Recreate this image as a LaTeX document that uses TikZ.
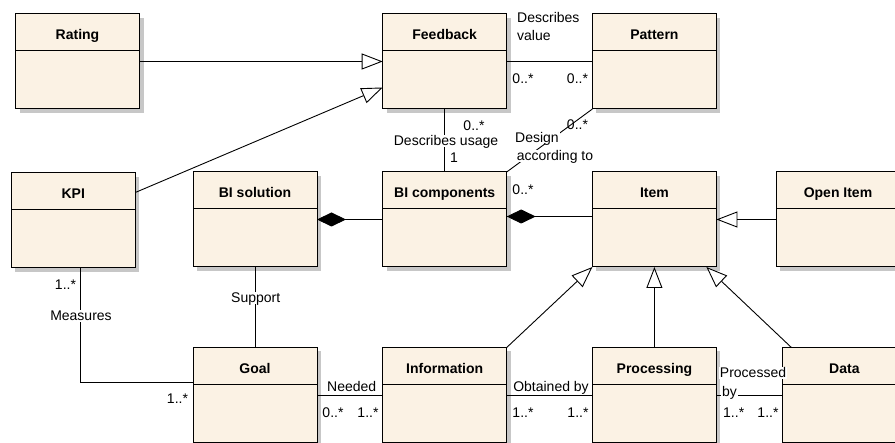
\documentclass[tikz,border=0pt]{standalone}
\usepackage{fontspec}
\setmainfont{Liberation Sans}
\usetikzlibrary{arrows.meta,shadows}
\definecolor{classfill}{RGB}{251,242,228}

\begin{document}
\begin{tikzpicture}[x=1pt, y=-1pt, font=\fontsize{14}{18}\selectfont,
		cls/.style={draw, line width=1pt, fill=classfill, minimum width=124pt, minimum height=95pt, inner sep=0pt, outer sep=0pt,
			drop shadow={shadow xshift=4pt, shadow yshift=-4pt, fill=black!22, opacity=1}},
		ttl/.style={font=\fontsize{14}{18}\selectfont\bfseries, text height=10pt, text depth=0pt},
		lbl/.style={inner sep=1pt, text height=10pt, text depth=0pt},
		wlbl/.style={lbl, fill=white},
		assoc/.style={line width=0.9pt},
		inherit/.style={assoc, -{Triangle[length=21pt, width=16pt, fill=white]}},
		compose/.style={assoc, -{Diamond[length=29pt, width=14pt]}}]
		\useasboundingbox (0,0) rectangle (895,443);
		\clip (0,0) rectangle (895,443);

		\node[cls] (rating) at (77.5, 61.5) {};
		\node[cls] (feedback) at (444.7, 61.5) {};
		\node[cls] (pattern) at (654.4, 61.5) {};
		\node[cls] (kpi) at (73.3, 220.5) {};
		\node[cls] (bisol) at (255, 219.5) {};
		\node[cls] (bicomp) at (444.7, 219.5) {};
		\node[cls] (item) at (654.4, 219.5) {};
		\node[cls] (openitem) at (838, 219.5) {};
		\node[cls] (goal) at (255, 395) {};
		\node[cls] (info) at (444.7, 395) {};
		\node[cls] (proc) at (654.4, 395) {};
		\node[cls] (data) at (844.4, 395) {};

		\foreach \n/\t in {rating/Rating, feedback/Feedback, pattern/Pattern, kpi/KPI, bisol/BI solution,
				bicomp/BI components, item/Item, openitem/Open Item, goal/Goal, info/Information,
				proc/Processing, data/Data} {
			\draw[line width=1pt] (\n.north west) ++(0,37) -- ++(124,0);
			\node[ttl] (\n-ttl) at ([yshift=-21pt]\n.north) {\t};
		}

		\draw[inherit] (rating) -- (feedback);
		\draw[inherit] ([yshift=28pt]kpi.east) -- ([yshift=-26pt]feedback.west);
		\draw[assoc] (feedback) -- (pattern);
		\draw[assoc] (feedback) -- (bicomp);
		\draw[assoc] (pattern.south west) -- (bicomp.north east);
		\draw[compose] (bicomp) -- (bisol);
		\draw[compose] ([yshift=3pt]item.west) -- ([yshift=3pt]bicomp.east);
		\draw[inherit] (openitem) -- (item);
		\draw[inherit] (info.north east) -- (item.south west);
		\draw[inherit] (proc) -- (item);
		\draw[inherit] ([xshift=9pt]data.north west) -- ([xshift=-10pt]item.south east);
		\draw[assoc] ([xshift=7pt]kpi.south) |- ([yshift=13pt]goal.west);
		\draw[assoc] (bisol) -- (goal);
		\draw[assoc] (goal) -- (info);
		\draw[assoc] (info) -- (proc);
		\draw[assoc] (proc) -- (data);

		\node[lbl, anchor=west, align=left] (descval) at (516, 36) {Describes\\value};
		\node[lbl] (fbpat1) at (523, 79) {0..*};
		\node[lbl] (fbpat2) at (577.5, 79) {0..*};
		\node[wlbl] (descuse) at (446, 141) {Describes usage};
		\node[lbl] (fbcomp1) at (474, 126) {0..*};
		\node[lbl] (fbcomp2) at (454, 158) {1};
		\node[wlbl] (design) at (537, 138) {Design};
		\node[wlbl] (accord) at (555, 156) {according to};
		\node[lbl] (patcomp1) at (577.5, 125) {0..*};
		\node[lbl] (patcomp2) at (523, 190) {0..*};
		\node[lbl] (kpigoal1) at (65.5, 285) {1..*};
		\node[wlbl] (measures) at (81, 316) {Measures};
		\node[wlbl] (support) at (255.7, 298) {Support};
		\node[lbl] (kpigoal2) at (177.5, 399) {1..*};
		\node[lbl] (needed) at (351.7, 387) {Needed};
		\node[lbl] (goalinfo1) at (333, 413) {0..*};
		\node[lbl] (goalinfo2) at (368, 413) {1..*};
		\node[lbl] (obtained) at (551, 387) {Obtained by};
		\node[lbl] (infoproc1) at (523, 413) {1..*};
		\node[lbl] (infoproc2) at (578, 413) {1..*};
		\node[wlbl] (processed) at (753, 373) {Processed};
		\node[wlbl] (by) at (729.5, 392) {by};
		\node[lbl] (procdata1) at (733.7, 413) {1..*};
		\node[lbl] (procdata2) at (768, 413) {1..*};
	\end{tikzpicture}
\end{document}
